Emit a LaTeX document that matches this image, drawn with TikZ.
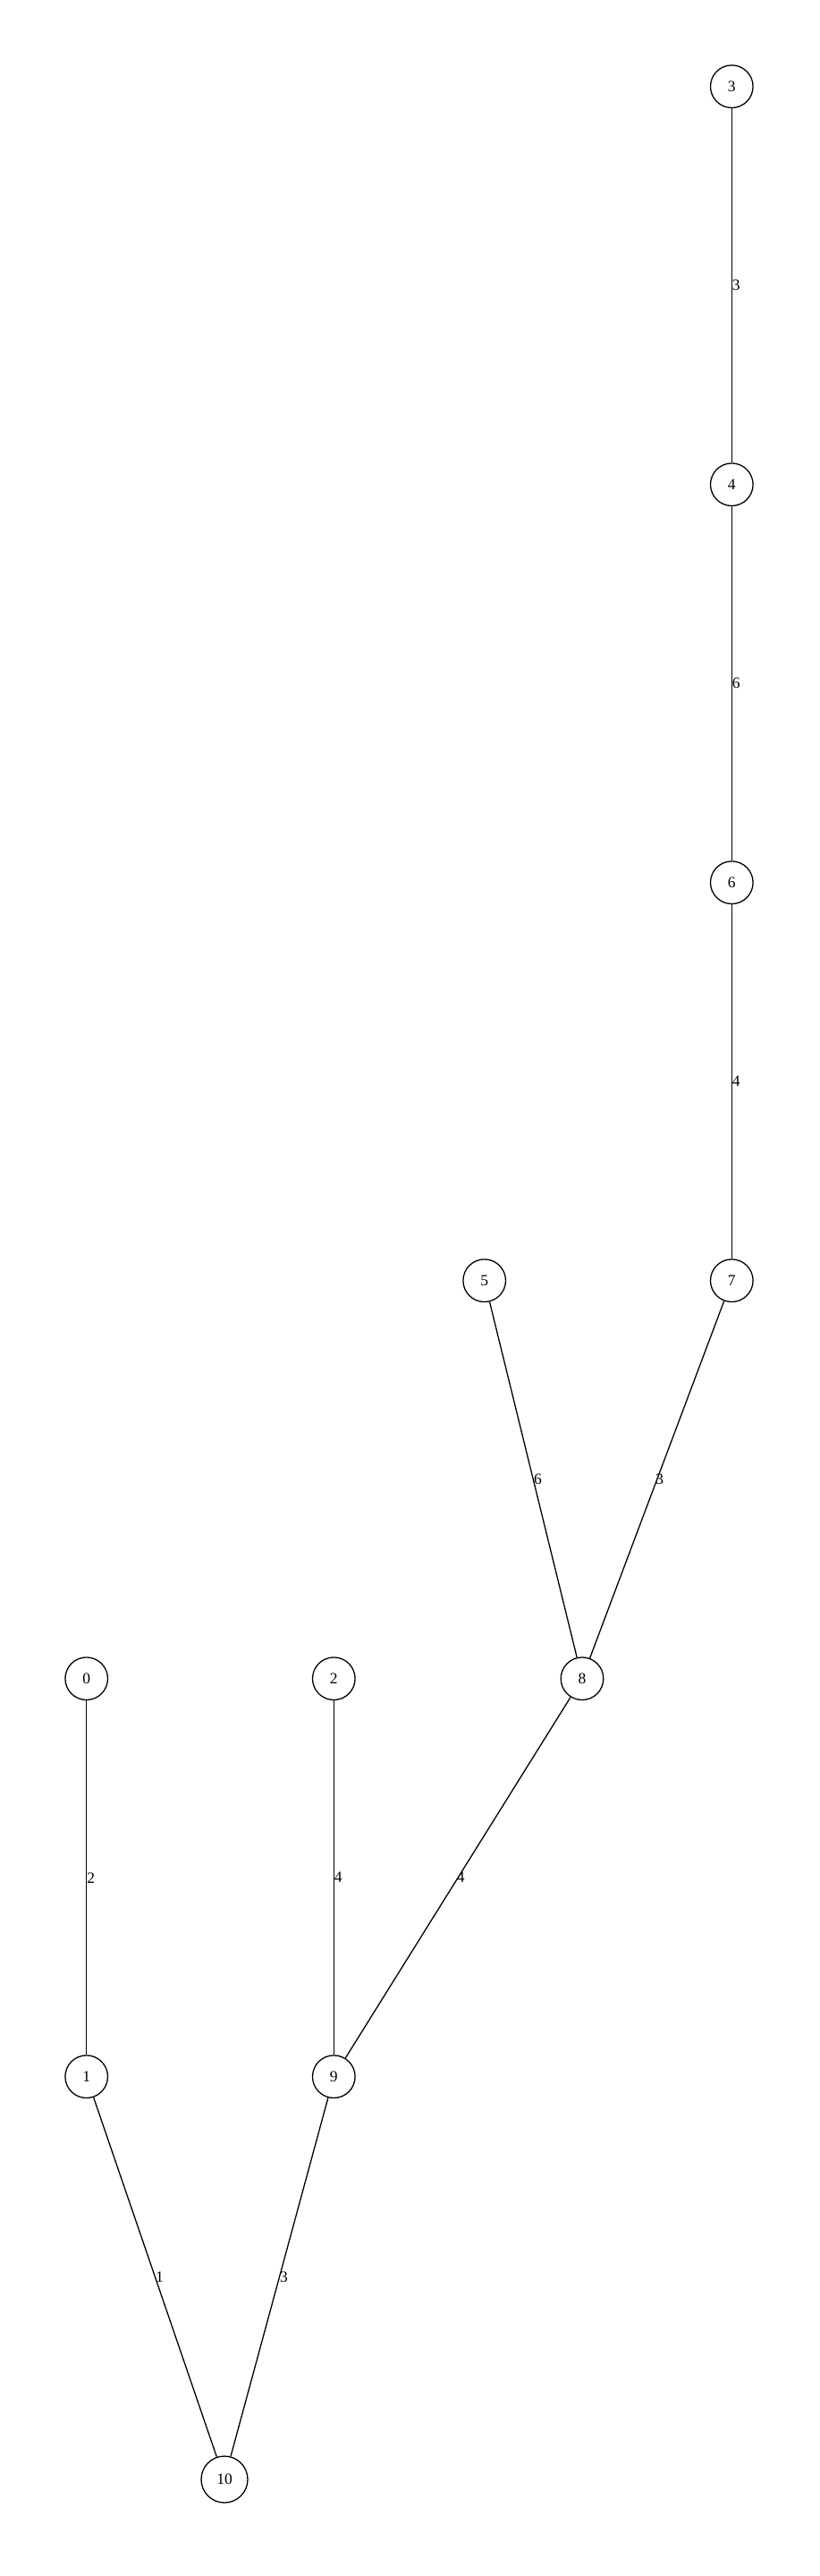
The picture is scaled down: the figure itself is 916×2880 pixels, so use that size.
\documentclass[tikz,border=0pt]{standalone}
\usepackage{fontspec}
\setmainfont{Liberation Serif}
\begin{document}
\begin{tikzpicture}[x=1pt,y=-1pt,
  vert/.style={draw,circle,line width=1.3pt,minimum size=47.6pt,inner sep=0pt,font=\fontsize{17.5}{20}\selectfont},
  edge/.style={line width=1.3pt},
  elabel/.style={anchor=west,inner sep=0pt,font=\fontsize{17.5}{20}\selectfont}]
\useasboundingbox (0,0) rectangle (916,2880);
\node[vert] (n3) at (818.3,96.7) {3};
\node[vert] (n4) at (818.3,541.7) {4};
\node[vert] (n6) at (818.3,986.7) {6};
\node[vert] (n7) at (818.3,1431.7) {7};
\node[vert] (n5) at (541.7,1431.7) {5};
\node[vert] (n8) at (651,1876.7) {8};
\node[vert] (n0) at (96.7,1876.7) {0};
\node[vert] (n2) at (373.3,1876.7) {2};
\node[vert] (n1) at (96.7,2321.7) {1};
\node[vert] (n9) at (373.3,2321.7) {9};
\node[vert,minimum size=52pt] (n10) at (251,2772) {10};
\draw[edge] (n3) -- node[elabel] {3} (n4);
\draw[edge] (n4) -- node[elabel] {6} (n6);
\draw[edge] (n6) -- node[elabel] {4} (n7);
\draw[edge] (n5) -- node[elabel] {6} (n8);
\draw[edge] (n7) -- node[elabel,xshift=-2pt] {3} (n8);
\draw[edge] (n0) -- node[elabel] {2} (n1);
\draw[edge] (n2) -- node[elabel] {4} (n9);
\draw[edge] (n8) -- node[elabel,xshift=-2pt] {4} (n9);
\draw[edge] (n1) -- node[elabel] {1} (n10);
\draw[edge] (n9) -- node[elabel] {3} (n10);
\end{tikzpicture}
\end{document}
